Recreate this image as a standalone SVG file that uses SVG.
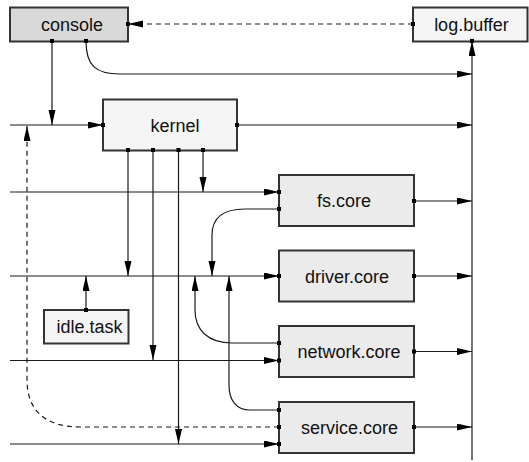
<svg xmlns="http://www.w3.org/2000/svg" width="529" height="462" viewBox="0 0 529 462">
  <style>
    .box { stroke: #333; stroke-width: 2; }
    .hi { fill: #d9d9d9; }
    .lo { fill: #f5f5f5; }
    .core { fill: #ebebeb; }
    .lbl { font-family: "Liberation Sans", Arial, sans-serif; font-size: 18px; fill: #111; text-anchor: middle; }
    .wire { fill: none; stroke: #1a1a1a; stroke-width: 1.2; }
    .dash { stroke-dasharray: 5 4; }
    .arr { marker-end: url(#tip); }
    .port { fill: #000; }
  </style>
  <defs>
    <marker id="tip" markerUnits="userSpaceOnUse" markerWidth="15" markerHeight="8" refX="15" refY="3.5" orient="auto">
      <path d="M0,0 L15,3.5 L0,7 z" fill="#000"/>
    </marker>
  </defs>

  <!-- connectors -->
  <g id="connectors">
    <path class="wire dash arr" d="M413,24 H128"/>
    <path class="wire arr" d="M86,41 C86,66 96,74 120,74 H472"/>
    <path class="wire arr" d="M52,41 V125"/>
    <path class="wire arr" d="M10,125 H103"/>
    <path class="wire arr" d="M237,125 H472"/>
    <path class="wire arr" d="M128,150 V276"/>
    <path class="wire arr" d="M153,150 V360"/>
    <path class="wire arr" d="M178.5,150 V444"/>
    <path class="wire arr" d="M203,150 V192"/>
    <path class="wire arr" d="M10,192 H279"/>
    <path class="wire arr" d="M279,209 H245 C225,209 212,216 212,235 V276"/>
    <path class="wire arr" d="M10,276 H279"/>
    <path class="wire arr" d="M86,310 V276"/>
    <path class="wire arr" d="M414,201 H472"/>
    <path class="wire arr" d="M414,276 H472"/>
    <path class="wire arr" d="M279,343 H232 C208,343 195,330 195,310 V276"/>
    <path class="wire arr" d="M10,360.5 H279"/>
    <path class="wire arr" d="M414,351.5 H472"/>
    <path class="wire arr" d="M279,410 H250 C236,410 229,400 229,385 V276"/>
    <path class="wire dash arr" d="M279,427 H80 C45,427 27,410 27,380 V126"/>
    <path class="wire arr" d="M10,444 H279"/>
    <path class="wire arr" d="M414,427 H472"/>
    <path class="wire arr" d="M472,460 V41"/>
  </g>

  <g id="console">
    <rect class="box hi" x="10" y="7.5" width="118" height="34"/>
    <text class="lbl" x="72" y="30.5">console</text>
    <rect class="port" x="126" y="22" width="4" height="4"/>
    <rect class="port" x="50" y="39" width="4" height="4"/>
    <rect class="port" x="84" y="39" width="4" height="4"/>
  </g>

  <g id="log-buffer">
    <rect class="box lo" x="413" y="7.5" width="114.5" height="34"/>
    <text class="lbl" x="471.5" y="30.5">log.buffer</text>
    <rect class="port" x="411" y="22" width="4" height="4"/>
    <rect class="port" x="470" y="39" width="4" height="4"/>
  </g>

  <g id="kernel">
    <rect class="box lo" x="103" y="99.5" width="134" height="51"/>
    <text class="lbl" x="175" y="131.5">kernel</text>
    <rect class="port" x="101" y="123" width="4" height="4"/>
    <rect class="port" x="235" y="123" width="4" height="4"/>
    <rect class="port" x="126" y="148" width="4" height="4"/>
    <rect class="port" x="151" y="148" width="4" height="4"/>
    <rect class="port" x="176.5" y="148" width="4" height="4"/>
    <rect class="port" x="201" y="148" width="4" height="4"/>
  </g>

  <g id="fs-core">
    <rect class="box core" x="279" y="175" width="135" height="51"/>
    <text class="lbl" x="344" y="207">fs.core</text>
    <rect class="port" x="277" y="190" width="4" height="4"/>
    <rect class="port" x="277" y="207" width="4" height="4"/>
    <rect class="port" x="412" y="199" width="4" height="4"/>
  </g>

  <g id="driver-core">
    <rect class="box core" x="279" y="250.5" width="135" height="51"/>
    <text class="lbl" x="347" y="282.5">driver.core</text>
    <rect class="port" x="277" y="274" width="4" height="4"/>
    <rect class="port" x="412" y="274" width="4" height="4"/>
  </g>

  <g id="idle-task">
    <rect class="box lo" x="44" y="310" width="84.5" height="33.5"/>
    <text class="lbl" x="89.5" y="333">idle.task</text>
    <rect class="port" x="84" y="308" width="4" height="4"/>
  </g>

  <g id="network-core">
    <rect class="box core" x="279" y="326" width="135" height="51"/>
    <text class="lbl" x="349" y="358">network.core</text>
    <rect class="port" x="277" y="341" width="4" height="4"/>
    <rect class="port" x="277" y="358.5" width="4" height="4"/>
    <rect class="port" x="412" y="349.5" width="4" height="4"/>
  </g>

  <g id="service-core">
    <rect class="box core" x="279" y="402" width="135" height="51"/>
    <text class="lbl" x="349.5" y="433.5">service.core</text>
    <rect class="port" x="277" y="408" width="4" height="4"/>
    <rect class="port" x="277" y="425" width="4" height="4"/>
    <rect class="port" x="277" y="442" width="4" height="4"/>
    <rect class="port" x="412" y="425" width="4" height="4"/>
  </g>
</svg>
